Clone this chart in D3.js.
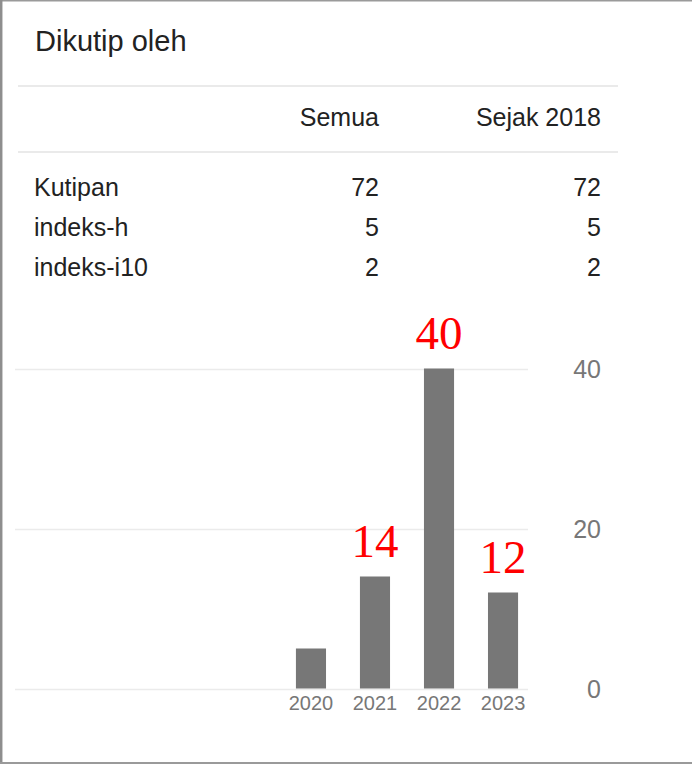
<!DOCTYPE html>
<html>
<head>
<meta charset="utf-8">
<script src="https://cdn.jsdelivr.net/npm/d3@7"></script>
<style>
  body { margin: 0; background: #fff; }
  svg { display: block; font-family: "Liberation Sans", Arial, sans-serif; }
</style>
</head>
<body>
<div id="chart"></div>
<script>
// citation table
var columns = ["Semua", "Sejak 2018"];
var rowLabels = ["Kutipan", "indeks-h", "indeks-i10"];
var allValues = [72, 5, 2];
var sinceValues = [72, 5, 2];

// citations per year
var years = ["2020", "2021", "2022", "2023"];
var counts = [5, 14, 40, 12];
var yTicks = [0, 20, 40];
// years that got a red number written above the bar
var marked = ["2021", "2022", "2023"];

var width = 692, height = 764;

var svg = d3.select("#chart")
  .append("svg")
  .attr("width", width)
  .attr("height", height);

svg.append("rect")
  .attr("width", width)
  .attr("height", height)
  .attr("fill", "#fff");

// frame of the screenshot (no right edge)
svg.append("line").attr("x1", 0).attr("x2", width).attr("y1", 0.75).attr("y2", 0.75)
  .attr("stroke", "#9a9a9a").attr("stroke-width", 1.5);
svg.append("line").attr("x1", 1.2).attr("x2", 1.2).attr("y1", 0).attr("y2", height)
  .attr("stroke", "#8e8e8e").attr("stroke-width", 2.5);
svg.append("line").attr("x1", 0).attr("x2", width).attr("y1", 763).attr("y2", 763)
  .attr("stroke", "#9a9a9a").attr("stroke-width", 2);

// title
svg.append("text")
  .attr("x", 35)
  .attr("y", 51)
  .attr("fill", "#222")
  .style("font-size", "29px")
  .text("Dikutip oleh");

// table rules
[86, 152].forEach(function (yy) {
  svg.append("line")
    .attr("x1", 18).attr("x2", 618)
    .attr("y1", yy).attr("y2", yy)
    .attr("stroke", "#e3e3e3")
    .attr("stroke-width", 1.5);
});

var colX = [379, 601];

svg.selectAll(".colhead")
  .data(columns)
  .enter()
  .append("text")
  .attr("class", "colhead")
  .attr("x", function (d, i) { return colX[i]; })
  .attr("y", 126)
  .attr("text-anchor", "end")
  .attr("fill", "#222")
  .style("font-size", "25px")
  .text(function (d) { return d; });

var rowY = d3.scalePoint().domain(rowLabels).range([196, 276]);

rowLabels.forEach(function (r, i) {
  svg.append("text")
    .attr("x", 34)
    .attr("y", rowY(r))
    .attr("fill", "#222")
    .style("font-size", "25px")
    .text(r);
  [allValues[i], sinceValues[i]].forEach(function (v, j) {
    svg.append("text")
      .attr("x", colX[j])
      .attr("y", rowY(r))
      .attr("text-anchor", "end")
      .attr("fill", "#222")
      .style("font-size", "25px")
      .text(v);
  });
});

// bar chart
var x = d3.scaleBand().domain(years).range([262, 552]).padding(0.53);
var y = d3.scaleLinear().domain([0, 40]).range([688.5, 368.5]);

var grid = svg.append("g");
grid.selectAll("line")
  .data(yTicks)
  .enter()
  .append("line")
  .attr("x1", 15)
  .attr("x2", 528)
  .attr("y1", function (d) { return Math.round(y(d)) + 0.5; })
  .attr("y2", function (d) { return Math.round(y(d)) + 0.5; })
  .attr("stroke", "#ebebeb")
  .attr("stroke-width", 1.5);

var yAxis = svg.append("g")
  .attr("transform", "translate(601,0)")
  .call(d3.axisRight(y).tickValues(yTicks).tickSize(0).tickPadding(0));
yAxis.select(".domain").remove();
yAxis.selectAll("text")
  .attr("text-anchor", "end")
  .attr("dy", "0.36em")
  .attr("fill", "#777")
  .style("font-size", "25px")
  .style("font-family", "Liberation Sans, Arial, sans-serif");

svg.selectAll(".bar")
  .data(years)
  .enter()
  .append("rect")
  .attr("class", "bar")
  .attr("x", function (d) { return x(d); })
  .attr("width", x.bandwidth())
  .attr("y", function (d, i) { return y(counts[i]); })
  .attr("height", function (d, i) { return y(0) - y(counts[i]); })
  .attr("fill", "#777");

var xAxis = svg.append("g")
  .attr("transform", "translate(0," + y(0) + ")")
  .call(d3.axisBottom(x).tickSize(0).tickPadding(0));
xAxis.select(".domain").remove();
xAxis.selectAll("text")
  .attr("y", 21)
  .attr("dy", 0)
  .attr("fill", "#777")
  .style("font-size", "20px")
  .style("font-family", "Liberation Sans, Arial, sans-serif");

// red numbers written over the bars
svg.selectAll(".mark")
  .data(marked)
  .enter()
  .append("text")
  .attr("class", "mark")
  .attr("x", function (d) { return x(d) + x.bandwidth() / 2; })
  .attr("y", function (d) { return y(counts[years.indexOf(d)]) - 20; })
  .attr("text-anchor", "middle")
  .attr("fill", "#ff0000")
  .style("font-family", "Liberation Serif, Cambria, serif")
  .style("font-size", "47px")
  .text(function (d) { return counts[years.indexOf(d)]; });
</script>
</body>
</html>
